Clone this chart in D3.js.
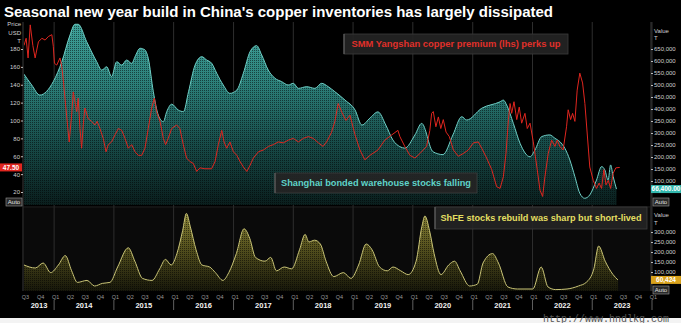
<!DOCTYPE html>
<html>
<head>
<meta charset="utf-8">
<script src="https://cdn.jsdelivr.net/npm/d3@7"></script>
<style>
  html, body { margin: 0; padding: 0; background: #000; }
  svg { display: block; }
</style>
</head>
<body>
<svg id="chart" width="681" height="323"></svg>
<script>
// Shanghai bonded warehouse copper stocks (tonnes, right axis, top panel)
const bondedStocks = [
  ["2013-07-01",545000],["2013-08-17",500000],["2013-10-06",458000],["2013-12-27",514000],
  ["2014-02-17",597000],["2014-04-08",708000],["2014-05-08",753000],["2014-05-28",753000],
  ["2014-07-19",680000],["2014-09-18",597000],["2014-10-19",562000],["2014-11-18",576000],
  ["2014-12-18",535000],["2015-01-18",597000],["2015-02-18",583000],["2015-03-20",604000],
  ["2015-04-20",590000],["2015-05-10",618000],["2015-06-10",653000],["2015-07-10",646000],
  ["2015-07-30",611000],["2015-08-30",472000],["2015-09-29",375000],["2015-10-30",347000],
  ["2015-11-20",389000],["2015-12-20",420000],["2016-01-29",396000],["2016-03-01",389000],
  ["2016-04-01",472000],["2016-05-11",583000],["2016-06-21",618000],["2016-07-21",604000],
  ["2016-08-21",590000],["2016-09-20",549000],["2016-10-30",500000],["2016-12-10",465000],
  ["2017-01-21",479000],["2017-03-02",549000],["2017-04-12",639000],["2017-05-22",664000],
  ["2017-06-22",625000],["2017-08-01",562000],["2017-09-11",528000],["2017-10-22",514000],
  ["2017-12-01",500000],["2018-01-01",507000],["2018-02-01",486000],["2018-03-24",493000],
  ["2018-05-13",486000],["2018-06-23",507000],["2018-08-02",493000],["2018-09-12",472000],
  ["2018-11-13",437000],["2019-01-13",396000],["2019-02-24",333000],["2019-04-14",362000],
  ["2019-06-02",388000],["2019-07-20",333000],["2019-09-01",271000],["2019-10-14",243000],
  ["2019-11-13",237000],["2020-01-14",292000],["2020-02-24",340000],["2020-05-03",222000],
  ["2020-07-03",210000],["2020-09-02",292000],["2020-10-26",368000],["2020-11-25",354000],
  ["2021-02-25",403000],["2021-06-17",430000],["2021-07-07",437000],["2021-07-27",417000],
  ["2021-09-06",340000],["2021-10-17",257000],["2021-12-17",201000],["2022-01-16",229000],
  ["2022-02-26",285000],["2022-04-17",292000],["2022-05-18",278000],["2022-06-17",264000],
  ["2022-07-18",236000],["2022-08-17",188000],["2022-09-17",118000],["2022-10-17",49000],
  ["2022-11-16",28000],["2022-12-17",42000],["2023-01-27",104000],["2023-02-27",160000],
  ["2023-03-19",146000],["2023-04-08",104000],["2023-04-23",167000],["2023-05-09",118000],
  ["2023-05-29",66400]
];

// SMM Yangshan copper premium (USD/t, left axis, top panel)
const yangshanPremium = [
  ["2013-07-01",184],["2013-07-14",192],["2013-07-26",170],["2013-08-08",207],["2013-08-24",184],
  ["2013-09-07",170],["2013-09-27",188],["2013-10-18",192],["2013-11-07",190],["2013-11-27",194],
  ["2013-12-18",196],["2013-12-27",183],["2014-01-03",164],["2014-01-17",162],["2014-02-06",170],
  ["2014-02-17",160],["2014-02-27",143],["2014-03-18",106],["2014-04-03",76],["2014-04-18",106],
  ["2014-04-28",132],["2014-05-08",121],["2014-05-19",110],["2014-05-28",125],["2014-06-08",91],
  ["2014-06-18",69],["2014-06-28",95],["2014-07-08",114],["2014-07-28",102],["2014-08-18",99],
  ["2014-09-07",95],["2014-09-21",99],["2014-10-08",91],["2014-10-28",80],["2014-11-14",65],
  ["2014-11-28",73],["2014-12-18",76],["2015-01-08",84],["2015-01-28",91],["2015-02-18",89],
  ["2015-03-10",80],["2015-03-30",69],["2015-04-20",73],["2015-05-10",65],["2015-05-30",61],
  ["2015-06-20",61],["2015-07-10",69],["2015-07-30",91],["2015-08-20",114],["2015-09-05",125],
  ["2015-09-19",110],["2015-10-10",99],["2015-10-30",80],["2015-11-13",73],["2015-11-29",80],
  ["2015-12-20",91],["2016-01-19",95],["2016-02-08",91],["2016-02-29",73],["2016-03-20",58],
  ["2016-04-10",54],["2016-04-30",52],["2016-05-21",43],["2016-06-10",47],["2016-07-10",46],
  ["2016-08-20",46],["2016-09-10",54],["2016-09-30",73],["2016-10-21",89],["2016-11-04",76],
  ["2016-11-20",69],["2016-12-10",76],["2016-12-31",65],["2017-01-21",61],["2017-02-10",54],
  ["2017-03-02",48],["2017-03-23",43],["2017-04-12",50],["2017-05-02",58],["2017-06-02",65],
  ["2017-07-02",67],["2017-08-02",71],["2017-09-01",73],["2017-10-01",76],["2017-11-01",75],
  ["2017-12-01",78],["2018-01-01",80],["2018-02-01",76],["2018-03-03",80],["2018-04-03",82],
  ["2018-05-03",80],["2018-06-03",75],["2018-07-02",71],["2018-07-23",76],["2018-08-23",87],
  ["2018-09-12",99],["2018-10-02",119],["2018-10-25",109],["2018-11-19",100],["2018-12-13",106],
  ["2019-01-13",84],["2019-02-12",67],["2019-03-14",56],["2019-04-14",61],["2019-06-02",67],
  ["2019-07-14",78],["2019-08-26",84],["2019-10-02",89],["2019-10-14",82],["2019-11-13",71],
  ["2019-12-14",61],["2020-01-14",58],["2020-02-13",63],["2020-03-25",71],["2020-04-14",89],
  ["2020-04-25",108],["2020-05-05",110],["2020-05-21",93],["2020-06-05",104],["2020-06-20",91],
  ["2020-07-05",101],["2020-07-22",87],["2020-08-11",82],["2020-09-05",67],["2020-10-05",60],
  ["2020-11-04",63],["2020-12-05",67],["2021-01-05",75],["2021-02-04",76],["2021-02-25",69],
  ["2021-03-27",58],["2021-04-27",45],["2021-05-27",26],["2021-06-17",24],["2021-07-07",37],
  ["2021-07-23",63],["2021-08-07",101],["2021-08-17",119],["2021-08-27",108],["2021-09-10",121],
  ["2021-09-27",101],["2021-10-12",115],["2021-10-27",97],["2021-11-16",108],["2021-11-30",91],
  ["2021-12-17",97],["2022-01-06",76],["2022-01-30",45],["2022-02-16",22],["2022-03-04",15],
  ["2022-03-18",37],["2022-04-07",63],["2022-04-28",78],["2022-05-18",71],["2022-06-01",78],
  ["2022-06-17",71],["2022-07-07",67],["2022-07-28",93],["2022-08-07",112],["2022-08-22",101],
  ["2022-09-03",108],["2022-09-17",99],["2022-10-01",134],["2022-10-17",153],["2022-11-03",142],
  ["2022-11-17",119],["2022-12-01",86],["2022-12-17",48],["2023-01-07",33],["2023-01-27",24],
  ["2023-02-12",30],["2023-02-27",24],["2023-03-13",45],["2023-03-26",28],["2023-04-09",33],
  ["2023-04-23",24],["2023-05-09",41],["2023-05-25",47],["2023-06-18",47.5]
];

// ShFE copper warehouse stocks (tonnes, bottom panel)
const shfeStocks = [
  ["2013-07-01",135000],["2013-09-08",120000],["2013-10-26",145000],["2013-12-11",97000],
  ["2014-01-27",135000],["2014-03-10",182000],["2014-04-18",106000],["2014-05-23",48000],
  ["2014-07-21",58000],["2014-09-05",30000],["2014-10-22",43000],["2014-12-08",48000],
  ["2015-01-24",125000],["2015-03-30",221000],["2015-05-09",154000],["2015-06-25",68000],
  ["2015-08-22",58000],["2015-10-08",116000],["2015-11-12",163000],["2015-12-17",135000],
  ["2016-01-21",192000],["2016-02-25",307000],["2016-03-19",393000],["2016-04-12",326000],
  ["2016-05-17",211000],["2016-06-22",135000],["2016-08-08",125000],["2016-09-12",97000],
  ["2016-10-28",58000],["2016-12-03",97000],["2017-01-18",192000],["2017-03-06",316000],
  ["2017-04-10",268000],["2017-05-15",173000],["2017-07-12",154000],["2017-08-16",173000],
  ["2017-09-20",106000],["2017-11-06",125000],["2017-12-22",116000],["2018-02-08",211000],
  ["2018-03-14",288000],["2018-04-06",250000],["2018-05-11",259000],["2018-06-15",240000],
  ["2018-07-20",154000],["2018-09-05",77000],["2018-11-03",97000],["2018-12-19",68000],
  ["2019-02-04",135000],["2019-03-22",240000],["2019-04-27",211000],["2019-06-12",125000],
  ["2019-07-29",106000],["2019-09-02",125000],["2019-10-19",106000],["2019-12-04",87000],
  ["2020-01-21",154000],["2020-02-25",326000],["2020-03-15",380000],["2020-04-12",307000],
  ["2020-05-10",192000],["2020-06-21",87000],["2020-08-07",135000],["2020-09-12",154000],
  ["2020-10-16",106000],["2020-12-13",30000],["2021-01-29",39000],["2021-03-05",145000],
  ["2021-05-02",192000],["2021-06-07",145000],["2021-08-04",25000],["2021-10-01",15000],
  ["2022-01-03",15000],["2022-02-23",125000],["2022-04-06",25000],["2022-05-23",12000],
  ["2022-07-31",15000],["2022-10-09",30000],["2022-11-25",48000],["2023-01-11",116000],
  ["2023-02-09",230000],["2023-03-21",154000],["2023-05-08",87000],["2023-06-07",60424]
];

const leftTicks = [20, 40, 60, 80, 100, 120, 140, 160, 180];
const rightTopTicks = [100000,150000,200000,250000,300000,350000,400000,450000,500000,550000,600000,650000];
const rightBottomTicks = [100000, 150000, 200000, 250000, 300000];
const yearLabels = ["2013","2014","2015","2016","2017","2018","2019","2020","2021","2022","2023"];

const titleText = "Seasonal new year build in China's copper inventories has largely dissipated";
const premiumNote = "SMM Yangshan copper premium (lhs) perks up";
const bondedNote = "Shanghai bonded warehouse stocks falling";
const shfeNote = "ShFE stocks rebuild was sharp but short-lived";

const parse = d3.utcParse("%Y-%m-%d");
const W = 681, H = 323;
const font = "'Liberation Sans', Arial, sans-serif";

const svg = d3.select("#chart");
svg.append("rect").attr("width", W).attr("height", H).attr("fill", "#000");

// Layout
const plotL = 24, plotR = 651;
const topT = 22, topB = 206;
const botT = 208, botB = 291;

const x = d3.scaleUtc()
  .domain([parse("2013-07-01"), parse("2024-01-01")])
  .range([plotL, 652]);
const yLeft = d3.scaleLinear().domain([20, 180]).range([192, 49]);
const yTop = d3.scaleLinear().domain([100000, 650000]).range([181, 49]);
const yBot = d3.scaleLinear().domain([100000, 300000]).range([272, 232]);

const defs = svg.append("defs");
defs.append("clipPath").attr("id", "clipTop")
  .append("rect").attr("x", plotL).attr("y", topT).attr("width", plotR - plotL).attr("height", topB - topT);
defs.append("clipPath").attr("id", "clipBot")
  .append("rect").attr("x", plotL).attr("y", botT).attr("width", plotR - plotL).attr("height", botB - botT);

const tealGrad = defs.append("linearGradient").attr("id", "tealGrad")
  .attr("gradientUnits", "userSpaceOnUse").attr("x1", 0).attr("x2", 0).attr("y1", topT).attr("y2", 205);
[[0, "#3fa39b"], [0.35, "#2b7e78"], [0.65, "#184e4b"], [1, "#0a1e1d"]].forEach(([o, c]) =>
  tealGrad.append("stop").attr("offset", o).attr("stop-color", c));

const oliveGrad = defs.append("linearGradient").attr("id", "oliveGrad")
  .attr("gradientUnits", "userSpaceOnUse").attr("x1", 0).attr("x2", 0).attr("y1", botT).attr("y2", botB);
[[0, "#8e8838"], [0.45, "#58541f"], [1, "#17170a"]].forEach(([o, c]) =>
  oliveGrad.append("stop").attr("offset", o).attr("stop-color", c));

const dots = defs.append("pattern").attr("id", "dots")
  .attr("width", 2).attr("height", 2).attr("patternUnits", "userSpaceOnUse");
dots.append("rect").attr("width", 1).attr("height", 1).attr("fill", "#000").attr("opacity", 0.5);

// Faint backdrop for the lower panel
svg.append("rect").attr("x", plotL).attr("y", botT).attr("width", plotR - plotL).attr("height", botB - botT)
  .attr("fill", "#0a0a0a");

// Year gridlines
const yearStarts = d3.utcYear.range(parse("2014-01-01"), parse("2024-01-02"));
svg.append("g").selectAll("line").data(yearStarts).join("line")
  .attr("x1", d => x(d)).attr("x2", d => x(d))
  .attr("y1", topT).attr("y2", botB)
  .attr("stroke", "#2e2e2e").attr("stroke-width", 1);

// Top panel: bonded stocks area + premium line
const topG = svg.append("g").attr("clip-path", "url(#clipTop)");
const bonded = bondedStocks.map(([d, v]) => [parse(d), v]);
const areaTop = d3.area().x(d => x(d[0])).y0(yTop(0)).y1(d => yTop(d[1])).curve(d3.curveMonotoneX);
const lineTop = d3.line().x(d => x(d[0])).y(d => yTop(d[1])).curve(d3.curveMonotoneX);
topG.append("path").datum(bonded).attr("d", areaTop).attr("fill", "url(#tealGrad)");
topG.append("path").datum(bonded).attr("d", areaTop).attr("fill", "url(#dots)");
topG.append("path").datum(bonded).attr("d", lineTop).attr("fill", "none")
  .attr("stroke", "#6fcfc6").attr("stroke-width", 1);

const premium = yangshanPremium.map(([d, v]) => [parse(d), v]);
topG.append("path").datum(premium)
  .attr("d", d3.line().x(d => x(d[0])).y(d => yLeft(d[1])))
  .attr("fill", "none").attr("stroke", "#e0261f").attr("stroke-width", 1).attr("stroke-linejoin", "round");

// Bottom panel: ShFE stocks
const botG = svg.append("g").attr("clip-path", "url(#clipBot)");
const shfe = shfeStocks.map(([d, v]) => [parse(d), v]);
const areaBot = d3.area().x(d => x(d[0])).y0(yBot(0)).y1(d => yBot(d[1])).curve(d3.curveMonotoneX);
botG.append("path").datum(shfe).attr("d", areaBot).attr("fill", "url(#oliveGrad)");
botG.append("path").datum(shfe).attr("d", areaBot).attr("fill", "url(#dots)");
botG.append("path").datum(shfe)
  .attr("d", d3.line().x(d => x(d[0])).y(d => yBot(d[1])).curve(d3.curveMonotoneX))
  .attr("fill", "none").attr("stroke", "#c9c476").attr("stroke-width", 1);

// Panel frames
svg.append("line").attr("x1", 23).attr("x2", 23).attr("y1", topT).attr("y2", botB).attr("stroke", "#3a3a3a");
svg.append("line").attr("x1", plotR).attr("x2", plotR).attr("y1", topT).attr("y2", botB).attr("stroke", "#3a3a3a");
svg.append("line").attr("x1", 23).attr("x2", plotR).attr("y1", 207).attr("y2", 207).attr("stroke", "#262626");

// Axes
function styleAxis(g) {
  g.select(".domain").remove();
  g.selectAll(".tick line").attr("stroke", "#bbb");
  g.selectAll(".tick text").attr("fill", "#cfcfcf").attr("font-family", font).attr("font-size", 6);
}
svg.append("g").attr("transform", "translate(23,0)")
  .call(d3.axisLeft(yLeft).tickValues(leftTicks).tickSize(2).tickPadding(1).tickFormat(d3.format("d")))
  .call(styleAxis);
svg.append("g").attr("transform", `translate(${plotR},0)`)
  .call(d3.axisRight(yTop).tickValues(rightTopTicks).tickSize(2).tickPadding(1).tickFormat(d3.format(",")))
  .call(styleAxis);
svg.append("g").attr("transform", `translate(${plotR},0)`)
  .call(d3.axisRight(yBot).tickValues(rightBottomTicks).tickSize(2).tickPadding(1).tickFormat(d3.format(",")))
  .call(styleAxis);

// Axis unit captions
const cap = (t, xx, yy, anchor) => svg.append("text").text(t).attr("x", xx).attr("y", yy)
  .attr("text-anchor", anchor).attr("fill", "#d0d0d0").attr("font-family", font).attr("font-size", 6);
cap("Price", 21, 26, "end"); cap("USD", 21, 35, "end"); cap("T", 21, 43, "end");
cap("Value", 654, 33, "start"); cap("T", 654, 40, "start");
cap("Value", 654, 217, "start"); cap("T", 654, 225, "start");

// Last-value tags
function tag(txt, x0, yc, w, fill) {
  svg.append("rect").attr("x", x0).attr("y", yc - 4).attr("width", w).attr("height", 8).attr("fill", fill);
  svg.append("text").text(txt).attr("x", x0 + w / 2).attr("y", yc + 2.2).attr("text-anchor", "middle")
    .attr("fill", "#fff").attr("font-family", font).attr("font-size", 6.5).attr("font-weight", "bold");
}
const lastPremium = premium[premium.length - 1][1];
const lastBonded = bonded[bonded.length - 1][1];
const lastShfe = shfe[shfe.length - 1][1];
tag(d3.format(".2f")(lastPremium), 0, yLeft(lastPremium), 22, "#e0261f");
tag(d3.format(",.2f")(lastBonded), 651, yTop(lastBonded), 30, "#33b8ae");
tag(d3.format(",")(lastShfe), 651, yBot(lastShfe), 30, "#d9a21c");

// "Auto" buttons
function autoBtn(x0, y0) {
  svg.append("rect").attr("x", x0).attr("y", y0).attr("width", 16).attr("height", 8)
    .attr("fill", "#2a2a2a").attr("stroke", "#9a9a9a").attr("stroke-width", 0.6);
  svg.append("text").text("Auto").attr("x", x0 + 8).attr("y", y0 + 6).attr("text-anchor", "middle")
    .attr("fill", "#e0e0e0").attr("font-family", font).attr("font-size", 6);
}
autoBtn(6, 198); autoBtn(653, 198); autoBtn(653, 286);

// Quarter and year labels
const quarters = d3.utcMonth.every(3).range(parse("2013-07-01"), parse("2024-01-02"));
svg.append("g").selectAll("text").data(quarters).join("text")
  .text(d => "Q" + (Math.floor(d.getUTCMonth() / 3) + 1))
  .attr("x", d => x(d) + 1.5).attr("y", 299).attr("text-anchor", "middle")
  .attr("fill", "#9a9a9a").attr("font-family", font).attr("font-size", 5.5);
svg.append("g").selectAll("line").data(yearStarts).join("line")
  .attr("x1", d => x(d)).attr("x2", d => x(d)).attr("y1", 300).attr("y2", 310)
  .attr("stroke", "#777").attr("stroke-width", 0.8);
svg.append("g").selectAll("text").data(yearLabels).join("text")
  .text(d => d)
  .attr("x", d => {
    const a = Math.max(x(parse(d + "-01-01")), plotL);
    const b = x(parse((+d + 1) + "-01-01"));
    return (a + b) / 2;
  })
  .attr("y", 308).attr("text-anchor", "middle")
  .attr("fill", "#f2f2f2").attr("font-family", font).attr("font-size", 7.5).attr("font-weight", "bold");

// Annotation boxes
function note(txt, x0, y0, w, h, color, fs, tl) {
  svg.append("rect").attr("x", x0).attr("y", y0).attr("width", w).attr("height", h)
    .attr("fill", "#242424").attr("fill-opacity", 0.92).attr("stroke", "#3c3c3c").attr("stroke-width", 0.8);
  svg.append("line").attr("x1", x0).attr("x2", x0).attr("y1", y0).attr("y2", y0 + h)
    .attr("stroke", "#6a6a6a").attr("stroke-width", 1);
  svg.append("text").text(txt).attr("x", x0 + (w - tl) / 2).attr("y", y0 + h / 2 + fs * 0.36)
    .attr("fill", color).attr("font-family", font).attr("font-weight", "bold").attr("font-size", fs)
    .attr("textLength", tl).attr("lengthAdjust", "spacingAndGlyphs");
}
note(premiumNote, 344, 34, 224, 20, "#e0302a", 9.5, 209);
note(bondedNote, 275, 173, 202, 20, "#5fd3c9", 9.5, 190);
note(shfeNote, 435, 207, 212, 22, "#e4df62", 9.5, 201);

// Title
svg.append("text").text(titleText).attr("x", 4).attr("y", 17)
  .attr("fill", "#fff").attr("font-family", font).attr("font-weight", "bold").attr("font-size", 14)
  .attr("textLength", 549).attr("lengthAdjust", "spacingAndGlyphs");

// Footer strip with site credit
svg.append("rect").attr("x", 0).attr("y", 318).attr("width", W).attr("height", 5).attr("fill", "#f3f3f3");
svg.append("text").text("http://www.hndlkg.com").attr("x", 543).attr("y", 321.5)
  .attr("fill", "#555").attr("font-family", "'Liberation Mono', monospace").attr("font-size", 10);
</script>
</body>
</html>
